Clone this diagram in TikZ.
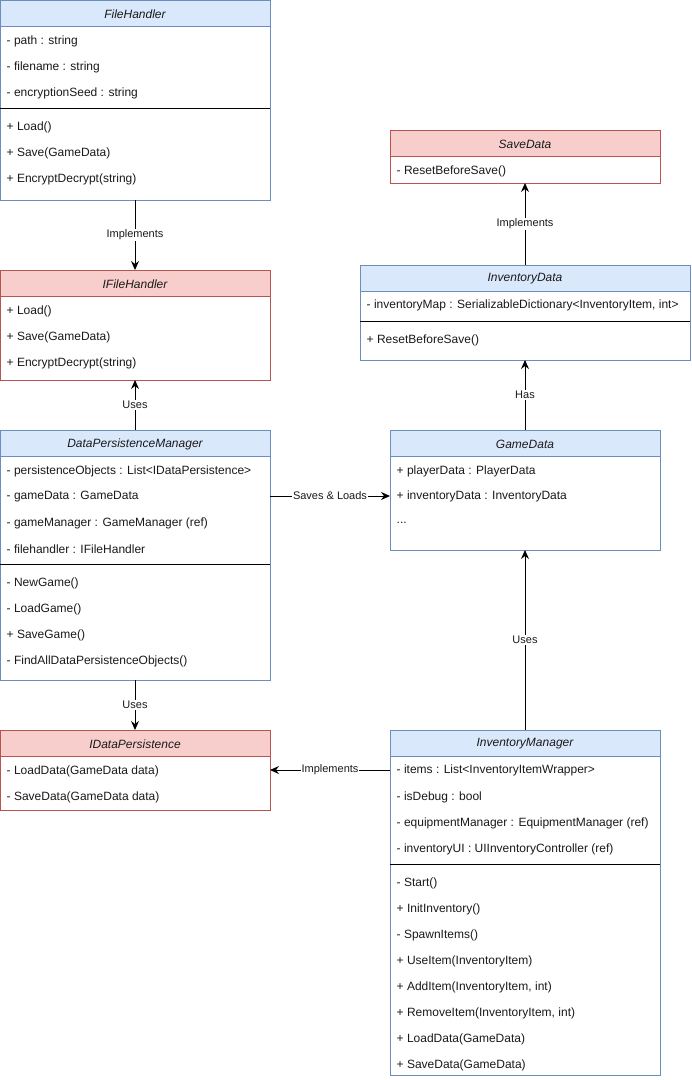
\documentclass[tikz,border=0pt]{standalone}
\usepackage{fontspec}
\setmainfont{Liberation Sans}
\usetikzlibrary{arrows.meta,calc}

\definecolor{hdrblue}{HTML}{DAE8FC}
\definecolor{lineblue}{HTML}{6C8EBF}
\definecolor{hdrred}{HTML}{F8CECC}
\definecolor{linered}{HTML}{B85450}
\definecolor{ink}{HTML}{1A1A1A}

\tikzset{
  frame/.style={draw, line width=1pt, inner sep=0pt, outer sep=0pt, fill=white},
  member/.style={anchor=west, inner sep=0pt, yshift=-1pt, font=\fontsize{12}{14}\selectfont, text=ink},
  title/.style={inner sep=0pt, yshift=-1pt, font=\fontsize{12}{14}\selectfont\itshape, text=ink},
  rel/.style={line width=1pt, -{Stealth[length=9pt,width=8pt,inset=3pt]}},
  lbl/.style={fill=white, inner sep=1pt, font=\fontsize{11}{13}\selectfont, text=ink},
  divider/.style={draw=black, line width=1pt},
}

% class box: name, left, top, width, height, header fill, border colour, title
\newcommand{\umlbox}[8]{%
  \node[frame, draw=#7, minimum width=#4pt, minimum height=#5pt, anchor=north west] (#1) at (#2,#3) {};
  \fill[#6] ([xshift=0.5pt,yshift=-0.5pt]#1.north west) rectangle ([xshift=-0.5pt,yshift=-26pt]#1.north east);
  \draw[#7, line width=1pt] ([yshift=-26pt]#1.north west) -- ([yshift=-26pt]#1.north east);
  \node[title] (#1-title) at ([yshift=-13pt]#1.north) {#8};
}
% divider between attributes and operations, offset from the top of the box
\newcommand{\umldivider}[2]{%
  \draw[divider] ([yshift=-#2pt]#1.north west) -- ([yshift=-#2pt]#1.north east);
}

\begin{document}
\begin{tikzpicture}[x=1pt, y=-1pt]
\useasboundingbox (0,0) rectangle (692,1080);

% ---- FileHandler ----
\umlbox{fh}{0}{0}{270}{200}{hdrblue}{lineblue}{FileHandler}
\node[member] (fh-m1) at (6.5,40)  {- path : string};
\node[member] (fh-m2) at (6.5,66)  {- filename : string};
\node[member] (fh-m3) at (6.5,92)  {- encryptionSeed : string};
\umldivider{fh}{108}
\node[member] (fh-m4) at (6.5,126) {+ Load()};
\node[member] (fh-m5) at (6.5,152) {+ Save(GameData)};
\node[member] (fh-m6) at (6.5,178) {+ EncryptDecrypt(string)};

% ---- IFileHandler ----
\umlbox{ifh}{0}{270}{270}{110}{hdrred}{linered}{IFileHandler}
\node[member] (ifh-m1) at (6.5,310) {+ Load()};
\node[member] (ifh-m2) at (6.5,336) {+ Save(GameData)};
\node[member] (ifh-m3) at (6.5,362) {+ EncryptDecrypt(string)};

% ---- DataPersistenceManager ----
\umlbox{dpm}{0}{430}{270}{250}{hdrblue}{lineblue}{DataPersistenceManager}
\node[member] (dpm-m1) at (6.5,470) {- persistenceObjects : List<IDataPersistence>};
\node[member] (dpm-m2) at (6.5,496) {- gameData : GameData};
\node[member] (dpm-m3) at (6.5,522) {- gameManager : GameManager (ref)};
\node[member] (dpm-m4) at (6.5,548) {- filehandler : IFileHandler};
\umldivider{dpm}{134}
\node[member] (dpm-m5) at (6.5,582) {- NewGame()};
\node[member] (dpm-m6) at (6.5,608) {- LoadGame()};
\node[member] (dpm-m7) at (6.5,634) {+ SaveGame()};
\node[member] (dpm-m8) at (6.5,660) {- FindAllDataPersistenceObjects()};

% ---- IDataPersistence ----
\umlbox{idp}{0}{730}{270}{80}{hdrred}{linered}{IDataPersistence}
\node[member] (idp-m1) at (6.5,770) {- LoadData(GameData data)};
\node[member] (idp-m2) at (6.5,796) {- SaveData(GameData data)};

% ---- SaveData ----
\umlbox{sd}{390}{130}{270}{53}{hdrred}{linered}{SaveData}
\node[member] (sd-m1) at (396.5,170) {- ResetBeforeSave()};

% ---- InventoryData ----
\umlbox{invd}{360}{265}{330}{95}{hdrblue}{lineblue}{InventoryData}
\node[member] (invd-m1) at (366.5,304) {- inventoryMap : SerializableDictionary<InventoryItem, int>};
\umldivider{invd}{56}
\node[member] (invd-m2) at (366.5,339) {+ ResetBeforeSave()};

% ---- GameData ----
\umlbox{gd}{390}{430}{270}{120}{hdrblue}{lineblue}{GameData}
\node[member] (gd-m1) at (396.5,470) {+ playerData : PlayerData};
\node[member] (gd-m2) at (396.5,495) {+ inventoryData : InventoryData};
\node[member] (gd-m3) at (396.5,522) {...};

% ---- InventoryManager ----
\umlbox{im}{390}{730}{270}{345}{hdrblue}{lineblue}{InventoryManager}
\node[member] (im-m1)  at (396.5,769)  {- items : List<InventoryItemWrapper>};
\node[member] (im-m2)  at (396.5,796)  {- isDebug : bool};
\node[member] (im-m3)  at (396.5,822)  {- equipmentManager : EquipmentManager (ref)};
\node[member] (im-m4)  at (396.5,848)  {- inventoryUI : UIInventoryController (ref)};
\umldivider{im}{134}
\node[member] (im-m5)  at (396.5,882)  {- Start()};
\node[member] (im-m6)  at (396.5,908)  {+ InitInventory()};
\node[member] (im-m7)  at (396.5,934)  {- SpawnItems()};
\node[member] (im-m8)  at (396.5,960)  {+ UseItem(InventoryItem)};
\node[member] (im-m9)  at (396.5,986)  {+ AddItem(InventoryItem, int)};
\node[member] (im-m10) at (396.5,1012) {+ RemoveItem(InventoryItem, int)};
\node[member] (im-m11) at (396.5,1038) {+ LoadData(GameData)};
\node[member] (im-m12) at (396.5,1064) {+ SaveData(GameData)};

% ---- relations ----
\draw[rel] (fh) -- node[lbl] (l-impl1) {Implements} (ifh);
\draw[rel] (dpm) -- node[lbl] (l-uses1) {Uses} (ifh);
\draw[rel] (dpm) -- node[lbl] (l-uses2) {Uses} (idp);
\draw[rel] (invd) -- node[lbl] (l-impl2) {Implements} (sd);
\draw[rel] (gd) -- node[lbl] (l-has) {Has} (invd);
\draw[rel] (im) -- node[lbl] (l-uses3) {Uses} (gd);
\draw[rel] (dpm.east |- gd-m2) -- node[lbl] (l-saves) {Saves \& Loads} (gd.west |- gd-m2);
\draw[rel] (im.west |- im-m1) -- node[lbl] (l-impl3) {Implements} (idp.east |- im-m1);
\end{tikzpicture}
\end{document}
